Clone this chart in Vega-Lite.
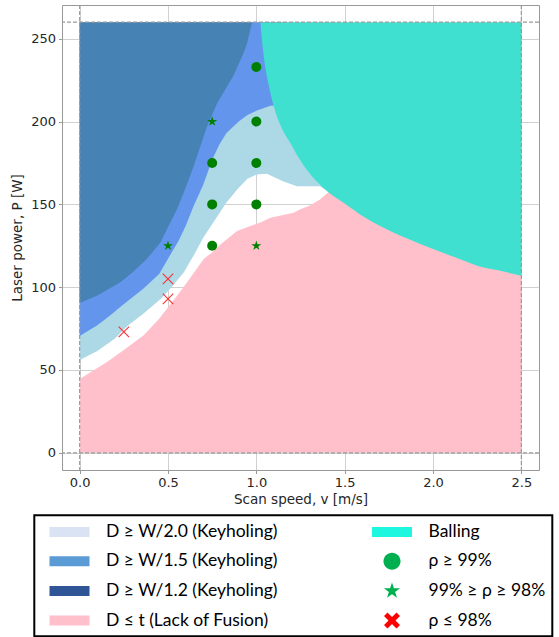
{
  "$schema": "https://vega.github.io/schema/vega-lite/v6.json",
  "width": 477,
  "height": 465,
  "autosize": {"type": "none"},
  "padding": {"left": 62, "top": 5, "right": 20, "bottom": 167},
  "background": "white",
  "datasets": {
    "regions": [
      {"r":"lb","x":0,"y":56,"y2":260},{"r":"lb","x":0.1,"y":61.5,"y2":260},{"r":"lb","x":0.2,"y":69,"y2":260},{"r":"lb","x":0.27,"y":76.5,"y2":260},{"r":"lb","x":0.36,"y":84,"y2":260},{"r":"lb","x":0.46,"y":93,"y2":260},{"r":"lb","x":0.52,"y":100,"y2":260},{"r":"lb","x":0.59,"y":109,"y2":260},{"r":"lb","x":0.65,"y":120,"y2":260},{"r":"lb","x":0.7,"y":130,"y2":260},{"r":"lb","x":0.75,"y":138,"y2":260},{"r":"lb","x":0.83,"y":151,"y2":260},{"r":"lb","x":0.9,"y":160,"y2":260},{"r":"lb","x":0.95,"y":165.5,"y2":260},{"r":"lb","x":1.0,"y":168,"y2":260},{"r":"lb","x":1.06,"y":168.5,"y2":260},{"r":"lb","x":1.15,"y":164,"y2":260},{"r":"lb","x":1.23,"y":161,"y2":260},{"r":"lb","x":1.36,"y":161,"y2":260},{"r":"lb","x":1.41,"y":157.5,"y2":260},{"r":"lb","x":1.45,"y":157,"y2":260},
      {"r":"mb","x":0,"y":70.5,"y2":260},{"r":"mb","x":0.1,"y":77,"y2":260},{"r":"mb","x":0.174,"y":83,"y2":260},{"r":"mb","x":0.24,"y":89,"y2":260},{"r":"mb","x":0.36,"y":99,"y2":260},{"r":"mb","x":0.45,"y":108,"y2":260},{"r":"mb","x":0.51,"y":119,"y2":260},{"r":"mb","x":0.56,"y":128,"y2":260},{"r":"mb","x":0.6,"y":137,"y2":260},{"r":"mb","x":0.645,"y":149,"y2":260},{"r":"mb","x":0.7,"y":162,"y2":260},{"r":"mb","x":0.75,"y":177,"y2":260},{"r":"mb","x":0.79,"y":186,"y2":260},{"r":"mb","x":0.83,"y":193,"y2":260},{"r":"mb","x":0.9,"y":200,"y2":260},{"r":"mb","x":0.95,"y":204,"y2":260},{"r":"mb","x":1.0,"y":206.5,"y2":260},{"r":"mb","x":1.08,"y":209.5,"y2":260},{"r":"mb","x":1.15,"y":210,"y2":260},
      {"r":"db","x":0,"y":90.5,"y2":260},{"r":"db","x":0.1,"y":95,"y2":260},{"r":"db","x":0.23,"y":103,"y2":260},{"r":"db","x":0.3,"y":109,"y2":260},{"r":"db","x":0.38,"y":117,"y2":260},{"r":"db","x":0.457,"y":127,"y2":260},{"r":"db","x":0.494,"y":135,"y2":260},{"r":"db","x":0.551,"y":147,"y2":260},{"r":"db","x":0.6,"y":160,"y2":260},{"r":"db","x":0.645,"y":173,"y2":260},{"r":"db","x":0.721,"y":197,"y2":260},{"r":"db","x":0.778,"y":211,"y2":260},{"r":"db","x":0.872,"y":228,"y2":260},{"r":"db","x":0.93,"y":242,"y2":260},{"r":"db","x":0.947,"y":247,"y2":260},{"r":"db","x":0.965,"y":255,"y2":260},{"r":"db","x":0.976,"y":260,"y2":260},
      {"r":"pk","x":0,"y":0,"y2":44.5},{"r":"pk","x":0.155,"y":0,"y2":54.8},{"r":"pk","x":0.25,"y":0,"y2":62},{"r":"pk","x":0.362,"y":0,"y2":71},{"r":"pk","x":0.45,"y":0,"y2":81},{"r":"pk","x":0.494,"y":0,"y2":87},{"r":"pk","x":0.56,"y":0,"y2":96},{"r":"pk","x":0.608,"y":0,"y2":103},{"r":"pk","x":0.702,"y":0,"y2":117},{"r":"pk","x":0.75,"y":0,"y2":121},{"r":"pk","x":0.8,"y":0,"y2":126},{"r":"pk","x":0.891,"y":0,"y2":134},{"r":"pk","x":0.966,"y":0,"y2":137},{"r":"pk","x":1.023,"y":0,"y2":139},{"r":"pk","x":1.079,"y":0,"y2":142},{"r":"pk","x":1.211,"y":0,"y2":145},{"r":"pk","x":1.249,"y":0,"y2":147},{"r":"pk","x":1.306,"y":0,"y2":149.5},{"r":"pk","x":1.36,"y":0,"y2":153},{"r":"pk","x":1.41,"y":0,"y2":157.5},{"r":"pk","x":1.45,"y":0,"y2":200},{"r":"pk","x":2.5,"y":0,"y2":200},
      {"r":"bl","x":1.023,"y":260,"y2":260},{"r":"bl","x":1.033,"y":248,"y2":260},{"r":"bl","x":1.045,"y":237,"y2":260},{"r":"bl","x":1.07,"y":222,"y2":260},{"r":"bl","x":1.098,"y":209.5,"y2":260},{"r":"bl","x":1.148,"y":195,"y2":260},{"r":"bl","x":1.192,"y":187,"y2":260},{"r":"bl","x":1.229,"y":180,"y2":260},{"r":"bl","x":1.315,"y":167,"y2":260},{"r":"bl","x":1.406,"y":157.5,"y2":260},{"r":"bl","x":1.5,"y":150.5,"y2":260},{"r":"bl","x":1.6,"y":143,"y2":260},{"r":"bl","x":1.7,"y":137,"y2":260},{"r":"bl","x":1.85,"y":129.5,"y2":260},{"r":"bl","x":2.0,"y":123,"y2":260},{"r":"bl","x":2.125,"y":118,"y2":260},{"r":"bl","x":2.25,"y":113,"y2":260},{"r":"bl","x":2.375,"y":110,"y2":260},{"r":"bl","x":2.5,"y":106.9,"y2":260}
    ],
    "points": [
      {"q":"hi","x":0.75,"y":125},{"q":"hi","x":0.75,"y":150},{"q":"hi","x":0.75,"y":175},{"q":"hi","x":1.0,"y":150},{"q":"hi","x":1.0,"y":175},{"q":"hi","x":1.0,"y":200},{"q":"hi","x":1.0,"y":233},
      {"q":"mid","x":0.5,"y":125},{"q":"mid","x":0.75,"y":200},{"q":"mid","x":1.0,"y":125},
      {"q":"lo","x":0.25,"y":73},{"q":"lo","x":0.5,"y":93},{"q":"lo","x":0.5,"y":105}
    ],
    "vlines": [{"x":0},{"x":2.5}],
    "hlines": [{"y":0},{"y":260}],
    "legend": [
      {"k":"D ≥ W/2.0 (Keyholing)"},{"k":"D ≥ W/1.5 (Keyholing)"},{"k":"D ≥ W/1.2 (Keyholing)"},{"k":"D ≤ t (Lack of Fusion)"},
      {"k":"Balling"},{"k":"ρ ≥ 99%"},{"k":"99% ≥ ρ ≥ 98%"},{"k":"ρ ≤ 98%"}
    ]
  },
  "layer": [
    {
      "data": {"name": "regions"},
      "transform": [{"filter": "datum.r == 'lb'"}],
      "mark": {"type": "area", "fill": "#add8e6", "interpolate": "linear"},
      "encoding": {
        "x": {"field": "x", "type": "quantitative", "scale": {"domain": [-0.1, 2.6], "nice": false, "zero": false}, "axis": {"title": "Scan speed, v [m/s]", "values": [0, 0.5, 1, 1.5, 2, 2.5], "format": ".1f"}},
        "y": {"field": "y", "type": "quantitative", "scale": {"domain": [-10.4, 270.4], "nice": false, "zero": false}, "axis": {"title": "Laser power, P [W]", "values": [0, 50, 100, 150, 200, 250]}},
        "y2": {"field": "y2"}
      }
    },
    {
      "data": {"name": "regions"},
      "transform": [{"filter": "datum.r == 'mb'"}],
      "mark": {"type": "area", "fill": "#6495ed"},
      "encoding": {
        "x": {"field": "x", "type": "quantitative", "scale": {"domain": [-0.1, 2.6], "nice": false, "zero": false}},
        "y": {"field": "y", "type": "quantitative", "scale": {"domain": [-10.4, 270.4], "nice": false, "zero": false}},
        "y2": {"field": "y2"}
      }
    },
    {
      "data": {"name": "regions"},
      "transform": [{"filter": "datum.r == 'db'"}],
      "mark": {"type": "area", "fill": "#4682b4"},
      "encoding": {
        "x": {"field": "x", "type": "quantitative", "scale": {"domain": [-0.1, 2.6], "nice": false, "zero": false}},
        "y": {"field": "y", "type": "quantitative", "scale": {"domain": [-10.4, 270.4], "nice": false, "zero": false}},
        "y2": {"field": "y2"}
      }
    },
    {
      "data": {"name": "regions"},
      "transform": [{"filter": "datum.r == 'pk'"}],
      "mark": {"type": "area", "fill": "#ffc0cb"},
      "encoding": {
        "x": {"field": "x", "type": "quantitative", "scale": {"domain": [-0.1, 2.6], "nice": false, "zero": false}},
        "y": {"field": "y", "type": "quantitative", "scale": {"domain": [-10.4, 270.4], "nice": false, "zero": false}},
        "y2": {"field": "y2"}
      }
    },
    {
      "data": {"name": "regions"},
      "transform": [{"filter": "datum.r == 'bl'"}],
      "mark": {"type": "area", "fill": "#40e0d0", "interpolate": "monotone"},
      "encoding": {
        "x": {"field": "x", "type": "quantitative", "scale": {"domain": [-0.1, 2.6], "nice": false, "zero": false}},
        "y": {"field": "y", "type": "quantitative", "scale": {"domain": [-10.4, 270.4], "nice": false, "zero": false}},
        "y2": {"field": "y2"}
      }
    },
    {
      "data": {"name": "vlines"},
      "mark": {"type": "rule", "stroke": "#9a9a9a", "strokeDash": [4, 2], "strokeWidth": 1.2},
      "encoding": {
        "x": {"field": "x", "type": "quantitative", "scale": {"domain": [-0.1, 2.6], "nice": false, "zero": false}}
      }
    },
    {
      "data": {"name": "hlines"},
      "mark": {"type": "rule", "stroke": "#9a9a9a", "strokeDash": [4, 2], "strokeWidth": 1.2},
      "encoding": {
        "y": {"field": "y", "type": "quantitative", "scale": {"domain": [-10.4, 270.4], "nice": false, "zero": false}}
      }
    },
    {
      "data": {"name": "points"},
      "transform": [{"filter": "datum.q == 'hi'"}],
      "mark": {"type": "point", "shape": "circle", "filled": true, "fill": "#008000", "size": 100, "opacity": 1, "strokeWidth": 0},
      "encoding": {
        "x": {"field": "x", "type": "quantitative", "scale": {"domain": [-0.1, 2.6], "nice": false, "zero": false}},
        "y": {"field": "y", "type": "quantitative", "scale": {"domain": [-10.4, 270.4], "nice": false, "zero": false}}
      }
    },
    {
      "data": {"name": "points"},
      "transform": [{"filter": "datum.q == 'mid'"}],
      "mark": {"type": "point", "shape": "M0,-1L0.2245,-0.309L0.951,-0.309L0.363,0.118L0.588,0.809L0,0.382L-0.588,0.809L-0.363,0.118L-0.951,-0.309L-0.2245,-0.309Z", "filled": true, "fill": "#008000", "size": 110, "opacity": 1, "strokeWidth": 0},
      "encoding": {
        "x": {"field": "x", "type": "quantitative", "scale": {"domain": [-0.1, 2.6], "nice": false, "zero": false}},
        "y": {"field": "y", "type": "quantitative", "scale": {"domain": [-10.4, 270.4], "nice": false, "zero": false}}
      }
    },
    {
      "data": {"name": "points"},
      "transform": [{"filter": "datum.q == 'lo'"}],
      "mark": {"type": "point", "shape": "M-1,-1L1,1M-1,1L1,-1", "filled": false, "stroke": "#ff3030", "strokeWidth": 1.1, "size": 110, "opacity": 1},
      "encoding": {
        "x": {"field": "x", "type": "quantitative", "scale": {"domain": [-0.1, 2.6], "nice": false, "zero": false}},
        "y": {"field": "y", "type": "quantitative", "scale": {"domain": [-10.4, 270.4], "nice": false, "zero": false}}
      }
    },
    {
      "data": {"name": "legend"},
      "transform": [{"filter": "datum.k == 'legend only'"}],
      "mark": {"type": "point", "filled": true, "opacity": 1},
      "encoding": {
        "color": {
          "field": "k", "type": "nominal",
          "scale": {
            "domain": ["D ≥ W/2.0 (Keyholing)", "D ≥ W/1.5 (Keyholing)", "D ≥ W/1.2 (Keyholing)", "D ≤ t (Lack of Fusion)", "Balling", "ρ ≥ 99%", "99% ≥ ρ ≥ 98%", "ρ ≤ 98%"],
            "range": ["#dae3f3", "#5b9bd5", "#2f5597", "#ffc0cb", "#1ef7df", "#00b050", "#00b050", "#ff0000"]
          },
          "legend": {
            "orient": "none", "legendX": -27.7, "legendY": 510.3, "columns": 2, "title": null,
            "symbolSize": 400, "symbolOffset": 18.8, "labelOffset": 26.5, "rowPadding": 10.6, "columnPadding": 84.5,
            "padding": 6.4, "strokeColor": "black", "labelFont": "Lato", "labelFontSize": 17.5, "labelColor": "black",
            "labelLimit": 400, "symbolOpacity": 1, "symbolStrokeWidth": 0, "gridAlign": "each"
          }
        },
        "shape": {
          "field": "k", "type": "nominal",
          "scale": {
            "domain": ["D ≥ W/2.0 (Keyholing)", "D ≥ W/1.5 (Keyholing)", "D ≥ W/1.2 (Keyholing)", "D ≤ t (Lack of Fusion)", "Balling", "ρ ≥ 99%", "99% ≥ ρ ≥ 98%", "ρ ≤ 98%"],
            "range": [
              "M-2,-0.5H2V0.5H-2Z",
              "M-2,-0.5H2V0.5H-2Z",
              "M-2,-0.5H2V0.5H-2Z",
              "M-2,-0.5H2V0.5H-2Z",
              "M-2,-0.5H2V0.5H-2Z",
              "M0.85,0A0.85,0.85,0,1,1,-0.85,0A0.85,0.85,0,1,1,0.85,0Z",
              "M0,-0.85L0.191,-0.263L0.808,-0.263L0.309,0.1L0.5,0.688L0,0.325L-0.5,0.688L-0.309,0.1L-0.808,-0.263L-0.191,-0.263Z",
              "M-0.8,-0.45L-0.45,-0.8L0,-0.35L0.45,-0.8L0.8,-0.45L0.35,0L0.8,0.45L0.45,0.8L0,0.35L-0.45,0.8L-0.8,0.45L-0.35,0Z"
            ]
          }
        }
      }
    }
  ],
  "config": {
    "view": {"stroke": "#999999", "strokeWidth": 1},
    "axis": {
      "labelFont": "DejaVu Sans", "labelFontSize": 13, "labelColor": "#262626", "labelPadding": 3,
      "titleFont": "DejaVu Sans", "titleFontSize": 13.5, "titleFontWeight": "normal", "titleColor": "#262626",
      "tickColor": "#999999", "tickSize": 3.5, "domain": false,
      "grid": true, "gridColor": "#b0b0b0", "gridOpacity": 0.6, "gridWidth": 1, "zindex": 1
    },
    "axisX": {"titlePadding": 3},
    "axisY": {"titlePadding": 6},
    "legend": {"strokeColor": "black", "strokeWidth": 2, "symbolStrokeWidth": 0}
  }
}
